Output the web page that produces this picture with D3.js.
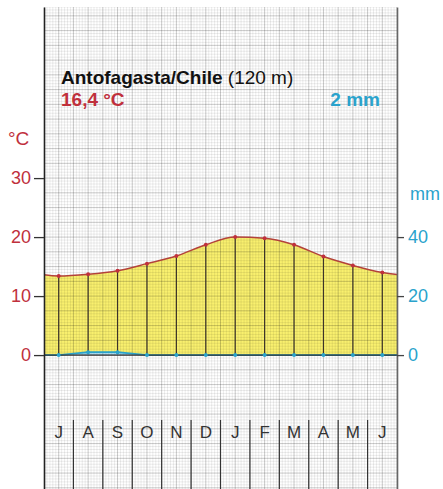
<!DOCTYPE html>
<html>
<head>
<meta charset="utf-8">
<script src="https://cdn.jsdelivr.net/npm/d3@7"></script>
<style>
  html, body { margin: 0; padding: 0; background: #fff; }
  svg { display: block; font-family: "Liberation Sans", Arial, Helvetica, sans-serif; }
</style>
</head>
<body>
<div id="chart"></div>
<script>
// climate data, Antofagasta (July .. June)
var months = ["J", "A", "S", "O", "N", "D", "J", "F", "M", "A", "M", "J"];
var temperature = [13.4, 13.7, 14.3, 15.5, 16.8, 18.7, 20.0, 19.8, 18.7, 16.7, 15.2, 14.0];
var precipitation = [0, 1, 1, 0, 0, 0, 0, 0, 0, 0, 0, 0];
var tempTicks = [0, 10, 20, 30];
var precTicks = [0, 20, 40];
var station = "Antofagasta/Chile";
var altitude = "(120 m)";
var meanTemp = "16,4 °C";
var totalPrec = "2 mm";

(function() {
  var width = 443, height = 489;
  var pLeft = 44, pRight = 397, pTop = 7, pBottom = 489;

  var red = "#c0303c", blue = "#2aa3cc";

  var svg = d3.select("#chart").append("svg")
    .attr("width", width)
    .attr("height", height);

  var x = d3.scaleBand()
    .domain(d3.range(12))
    .range([pLeft, pRight])
    .paddingInner(0).paddingOuter(0);
  var bw = x.bandwidth();
  function cx(i) { return x(0) + bw * (i + 0.5); }

  // 10 °C == 20 mm
  var y = d3.scaleLinear().domain([-22.7, 59]).range([pBottom, pTop]);
  var yMm = d3.scaleLinear().domain([-45.4, 118]).range([pBottom, pTop]);

  svg.append("defs").append("clipPath").attr("id", "plotclip")
    .append("rect").attr("x", pLeft).attr("y", pTop)
    .attr("width", pRight - pLeft).attr("height", pBottom - pTop);

  var plot = svg.append("g").attr("clip-path", "url(#plotclip)");

  // temperature curve, wrapped around so it runs to the edges
  var tempPts = [[cx(-1), y(temperature[11])]];
  temperature.forEach(function(t, i) { tempPts.push([cx(i), y(t)]); });
  tempPts.push([cx(12), y(temperature[0])]);

  var precPts = [[cx(-1), yMm(precipitation[11])]];
  precipitation.forEach(function(p, i) { precPts.push([cx(i), yMm(p)]); });
  precPts.push([cx(12), yMm(precipitation[0])]);

  var tempLine = d3.line().curve(d3.curveMonotoneX);
  var precLine = d3.line();

  // arid area: between temperature curve and the zero line
  plot.append("path")
    .attr("d", d3.area()
      .x(function(d) { return d[0]; })
      .y0(y(0))
      .y1(function(d) { return d[1]; })
      .curve(d3.curveMonotoneX)(tempPts))
    .attr("fill", "#f9f06e");

  plot.append("path")
    .attr("d", d3.area()
      .x(function(d) { return d[0]; })
      .y0(y(0))
      .y1(function(d) { return d[1]; })(precPts))
    .attr("fill", "#a8dbef");

  // mm paper grid
  var grid = plot.append("g");
  var step = bw / 10;
  d3.range(0, 121).forEach(function(k) {
    grid.append("line")
      .attr("x1", pLeft + k * step).attr("x2", pLeft + k * step)
      .attr("y1", pTop).attr("y2", pBottom)
      .attr("stroke", k % 5 === 0 ? "rgba(0,0,0,0.24)" : "rgba(0,0,0,0.13)")
      .attr("stroke-width", k % 5 === 0 ? 0.9 : 0.6);
  });
  d3.range(-46, 119).forEach(function(k) {
    var yy = y(k * 0.5);
    if (yy < pTop || yy > pBottom) return;
    grid.append("line")
      .attr("x1", pLeft).attr("x2", pRight)
      .attr("y1", yy).attr("y2", yy)
      .attr("stroke", k % 5 === 0 ? "rgba(0,0,0,0.24)" : "rgba(0,0,0,0.13)")
      .attr("stroke-width", k % 5 === 0 ? 0.9 : 0.6);
  });

  // hatching lines for the arid months
  temperature.forEach(function(t, i) {
    svg.append("line")
      .attr("x1", cx(i)).attr("x2", cx(i))
      .attr("y1", y(t)).attr("y2", yMm(precipitation[i]))
      .attr("stroke", "#3b3328")
      .attr("stroke-width", 1.2);
  });

  // baseline
  svg.append("line")
    .attr("x1", pLeft).attr("x2", pRight)
    .attr("y1", y(0)).attr("y2", y(0))
    .attr("stroke", "#333").attr("stroke-width", 1.3);

  plot.append("path")
    .attr("d", tempLine(tempPts))
    .attr("fill", "none")
    .attr("stroke", "#b3423a")
    .attr("stroke-width", 1.5);

  plot.append("path")
    .attr("d", precLine(precPts))
    .attr("fill", "none")
    .attr("stroke", blue)
    .attr("stroke-width", 1.6);

  svg.selectAll(".tdot").data(temperature).enter().append("circle")
    .attr("class", "tdot")
    .attr("cx", function(d, i) { return cx(i); })
    .attr("cy", function(d) { return y(d); })
    .attr("r", 2)
    .attr("fill", red);

  svg.selectAll(".pdot").data(precipitation).enter().append("circle")
    .attr("class", "pdot")
    .attr("cx", function(d, i) { return cx(i); })
    .attr("cy", function(d) { return yMm(d); })
    .attr("r", 2)
    .attr("fill", blue);

  // axes
  var axL = svg.append("g")
    .attr("transform", "translate(" + pLeft + ",0)")
    .call(d3.axisLeft(y).tickValues(tempTicks).tickSize(10).tickSizeOuter(0).tickPadding(3));
  axL.select(".domain").attr("stroke", "#222").attr("stroke-width", 1.6);
  axL.selectAll(".tick line").attr("stroke", "#333").attr("stroke-width", 1.3);
  axL.selectAll(".tick text")
    .attr("fill", red)
    .style("font-size", "18px")
    .style("font-family", "Liberation Sans, Arial, sans-serif");

  var axR = svg.append("g")
    .attr("transform", "translate(" + pRight + ",0)")
    .call(d3.axisRight(yMm).tickValues(precTicks).tickSize(7).tickSizeOuter(0).tickPadding(4));
  axR.select(".domain").attr("stroke", "#666").attr("stroke-width", 1.6);
  axR.selectAll(".tick line").attr("stroke", "#444").attr("stroke-width", 1.3);
  axR.selectAll(".tick text")
    .attr("fill", blue)
    .style("font-size", "18px")
    .style("font-family", "Liberation Sans, Arial, sans-serif");

  svg.append("text")
    .attr("x", 8).attr("y", 145)
    .attr("fill", red)
    .style("font-size", "19px")
    .text("°C");

  svg.append("text")
    .attr("x", 410).attr("y", 200)
    .attr("fill", blue)
    .style("font-size", "18px")
    .text("mm");

  // header
  var title = svg.append("text")
    .attr("x", 61).attr("y", 84)
    .style("font-size", "19px")
    .attr("fill", "#111");
  title.append("tspan").style("font-weight", "bold").text(station);
  title.append("tspan").text(" " + altitude);

  svg.append("text")
    .attr("x", 61).attr("y", 106)
    .attr("fill", red)
    .style("font-size", "19px")
    .style("font-weight", "bold")
    .text(meanTemp);

  svg.append("text")
    .attr("x", 380).attr("y", 106)
    .attr("text-anchor", "end")
    .attr("fill", blue)
    .style("font-size", "19px")
    .style("font-weight", "bold")
    .text(totalPrec);

  // month labels and separators
  svg.selectAll(".month").data(months).enter().append("text")
    .attr("class", "month")
    .attr("x", function(d, i) { return cx(i); })
    .attr("y", 438)
    .attr("text-anchor", "middle")
    .attr("fill", "#333")
    .style("font-size", "17px")
    .text(function(d) { return d; });

  d3.range(1, 12).forEach(function(i) {
    svg.append("line")
      .attr("x1", x(i)).attr("x2", x(i))
      .attr("y1", 420).attr("y2", pBottom)
      .attr("stroke", "#333")
      .attr("stroke-width", 1.2);
  });
})();
</script>
</body>
</html>
